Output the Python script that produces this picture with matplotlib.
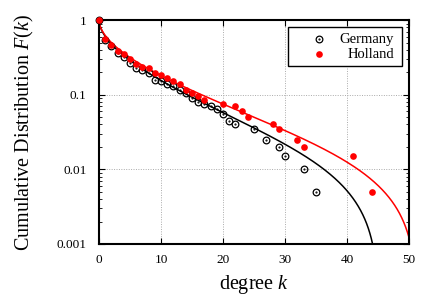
import numpy as np
import matplotlib
matplotlib.use("Agg")
from matplotlib import pyplot as plt
from matplotlib.patches import Rectangle
from matplotlib.ticker import FixedLocator, LogLocator, FuncFormatter

# degree values and cumulative distribution
germany_k = [0, 1, 2, 3, 4, 5, 6, 7, 8, 9, 10, 11, 12, 13, 14, 15, 16, 17, 18, 19,
             20, 21, 22, 25, 27, 29, 30, 33, 35]
germany_F = [1.0, 0.55, 0.45, 0.365, 0.325, 0.265, 0.23, 0.215, 0.195, 0.16, 0.155,
             0.14, 0.13, 0.115, 0.105, 0.09, 0.08, 0.075, 0.07, 0.065, 0.055, 0.045,
             0.04, 0.035, 0.025, 0.02, 0.015, 0.01, 0.005]
holland_k = [0, 1, 2, 3, 4, 5, 6, 7, 8, 9, 10, 11, 12, 13, 14, 15, 16, 17, 20, 22,
             23, 24, 28, 29, 32, 33, 41, 44]
holland_F = [1.0, 0.555, 0.465, 0.39, 0.35, 0.30, 0.26, 0.235, 0.23, 0.195, 0.185,
             0.17, 0.155, 0.14, 0.115, 0.105, 0.095, 0.085, 0.075, 0.07, 0.06, 0.05,
             0.04, 0.035, 0.025, 0.02, 0.015, 0.005]

# fit parameters (truncated stretched exponential): c, beta, k_max
germany_fit = (0.49, 0.56, 45.3)
holland_fit = (0.46, 0.55, 51.5)

x_ticks = [0, 10, 20, 30, 40, 50]
y_ticks = [0.001, 0.01, 0.1, 1]


def fit_curve(k, c, beta, kmax):
    """Truncated stretched exponential, F(0)=1 and F(kmax)=0."""
    g = np.exp(-c * k ** beta)
    g_max = np.exp(-c * kmax ** beta)
    return (g - g_max) / (1 - g_max)


plt.rcParams['font.family'] = ['Liberation Serif', 'DejaVu Serif']
plt.rcParams['mathtext.fontset'] = 'custom'
plt.rcParams['mathtext.it'] = 'Liberation Serif:italic'
plt.rcParams['mathtext.rm'] = 'Liberation Serif'

fig = plt.figure(figsize=(4.36, 3.05), dpi=100)
ax = fig.add_axes([0.227, 0.2, 0.711, 0.734])

# fitted curves
kk = np.linspace(0, 50, 2000)
for (c, beta, kmax), col in [(germany_fit, 'black'), (holland_fit, 'red')]:
    sel = kk < kmax
    ax.plot(kk[sel], fit_curve(kk[sel], c, beta, kmax), color=col, lw=1.1)

# data points
ax.plot(germany_k, germany_F, 'o', mfc='none', mec='black', ms=4.8, mew=0.9, clip_on=False, zorder=3)
ax.plot(germany_k, germany_F, '.', color='black', ms=1.1, clip_on=False, zorder=3)
ax.plot(holland_k, holland_F, 'o', color='red', ms=4.8, mew=0, clip_on=False, zorder=4)

ax.set_yscale('log')
ax.set_xlim(0, 50)
ax.set_ylim(0.001, 1)
ax.xaxis.set_major_locator(FixedLocator(x_ticks))
ax.yaxis.set_major_locator(FixedLocator(y_ticks))
ax.yaxis.set_minor_locator(LogLocator(base=10, subs=np.arange(2, 10)))
ax.yaxis.set_major_formatter(FuncFormatter(lambda v, p: '%g' % v))
ax.tick_params(which='both', direction='in', top=True, right=True, labelsize=9.5)
ax.tick_params(which='major', length=4, width=0.8)
ax.tick_params(which='minor', length=2, width=0.6)
ax.tick_params(axis='y', which='major', pad=9)
ax.tick_params(axis='x', which='major', pad=7)
ax.grid(True, which='major', color='#aaaaaa', linestyle=(0, (1, 1.5)), lw=0.7)
for s in ax.spines.values():
    s.set_linewidth(1.5)

ax.set_xlabel('degree $k$', fontsize=14.5, labelpad=5)
ax.set_ylabel('Cumulative Distribution $F(k)$', fontsize=14.5, labelpad=15)

# legend drawn by hand: markers on the left, labels right aligned
ax.add_patch(Rectangle((0.61, 0.795), 0.367, 0.174, transform=ax.transAxes,
                       facecolor='white', edgecolor='black', lw=1.0, zorder=5))
ax.plot([0.71], [0.915], 'o', mfc='none', mec='black', ms=4.8, mew=0.9, transform=ax.transAxes, zorder=6)
ax.plot([0.71], [0.915], '.', color='black', ms=1.1, transform=ax.transAxes, zorder=6)
ax.plot([0.71], [0.848], 'o', color='red', ms=4.8, mew=0, transform=ax.transAxes, zorder=6)
ax.text(0.952, 0.915, 'Germany', transform=ax.transAxes, ha='right', va='center', fontsize=10.5, zorder=6)
ax.text(0.952, 0.848, 'Holland', transform=ax.transAxes, ha='right', va='center', fontsize=10.5, zorder=6)

fig.savefig('out.png', dpi=100)
